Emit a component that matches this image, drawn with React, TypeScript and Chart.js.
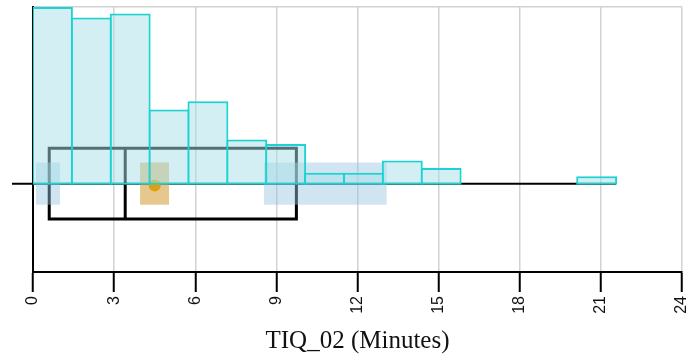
import React, { useEffect, useRef } from "react";
import { Chart, registerables } from "chart.js";

Chart.register(...registerables);

// Histogram bins of TIQ_02 (minutes) and relative bar heights (% of tallest bin)
const binEdges = [0, 1.4375, 2.875, 4.3125, 5.75, 7.1875, 8.625, 10.0625, 11.5, 12.9375, 14.375, 15.8125, 17.25, 18.6875, 20.125, 21.5625];
const binHeights: (number | null)[] = [100, 94, 96.3, 42, 46.7, 25, 22.4, 6.2, 6.2, 13.1, 8.8, null, null, null, 4.2];

// Box plot: min, Q1, median, Q3, max
const boxFive = [0, 0.6, 3.41, 9.74, 21.56];
// Shaded intervals
const q1Interval = [0.11, 1.0];
const q3Interval = [8.54, 13.08];
const meanInterval = [3.96, 5.03];
const meanValue = [4.5];

// Axis ticks
const xTickValues = [0, 3, 6, 9, 12, 15, 18, 21, 24];
const axisTitle = "TIQ_02 (Minutes)";

const BOX_HALF = 20;
const BAND_HALF = 12;
const Y_MIN = -50;
const Y_MAX = 100;

function rect(x0: number, x1: number, h: number) {
  return [
    { x: x0, y: -h },
    { x: x1, y: -h },
    { x: x1, y: h },
    { x: x0, y: h },
    { x: x0, y: -h },
  ];
}

export default function App() {
  const ref = useRef<HTMLCanvasElement>(null);

  useEffect(() => {
    const centers = binHeights.map((_, i) => (binEdges[i] + binEdges[i + 1]) / 2);
    const histData = centers.map((c, i) => ({ x: c, y: binHeights[i] }));
    const [mn, q1, med, q3, mx] = boxFive;

    const chart = new Chart(ref.current as HTMLCanvasElement, {
      type: "bar",
      data: {
        datasets: [
          {
            type: "bar",
            label: "hist",
            data: histData as any,
            base: -0.6,
            backgroundColor: "rgba(168, 224, 232, 0.5)",
            borderColor: "#1cd2d2",
            borderWidth: 2,
            borderSkipped: false,
            inflateAmount: 0,
            barPercentage: 1.052,
            categoryPercentage: 1,
            order: 0,
          } as any,
          {
            type: "line",
            label: "mean",
            data: meanValue.map((m) => ({ x: m, y: -1 })),
            showLine: false,
            pointRadius: 6,
            pointBackgroundColor: "rgb(224, 158, 18)",
            pointBorderWidth: 0,
            order: 1,
          } as any,
          {
            type: "line",
            label: "meanCI",
            data: rect(meanInterval[0], meanInterval[1], BAND_HALF),
            fill: "shape",
            backgroundColor: "rgba(212, 158, 58, 0.58)",
            borderColor: "rgba(0,0,0,0)",
            borderWidth: 0,
            pointRadius: 0,
            order: 2,
          } as any,
          {
            type: "line",
            label: "q1CI",
            data: rect(q1Interval[0], q1Interval[1], BAND_HALF),
            fill: "shape",
            backgroundColor: "rgba(150, 195, 225, 0.45)",
            borderColor: "rgba(0,0,0,0)",
            borderWidth: 0,
            pointRadius: 0,
            order: 3,
          } as any,
          {
            type: "line",
            label: "q3CI",
            data: rect(q3Interval[0], q3Interval[1], BAND_HALF),
            fill: "shape",
            backgroundColor: "rgba(150, 195, 225, 0.45)",
            borderColor: "rgba(0,0,0,0)",
            borderWidth: 0,
            pointRadius: 0,
            order: 3,
          } as any,
          {
            type: "line",
            label: "box",
            data: rect(q1, q3, BOX_HALF),
            borderColor: "#000",
            borderWidth: 3,
            borderJoinStyle: "miter",
            borderCapStyle: "square",
            pointRadius: 0,
            fill: false,
            order: 4,
          } as any,
          {
            type: "line",
            label: "median",
            data: [
              { x: med, y: -BOX_HALF },
              { x: med, y: BOX_HALF },
            ],
            borderColor: "#000",
            borderWidth: 3,
            pointRadius: 0,
            fill: false,
            order: 4,
          } as any,
          {
            type: "line",
            label: "whisker",
            data: [
              { x: mn, y: 0 },
              { x: mx, y: 0 },
            ],
            borderColor: "#000",
            borderWidth: 2,
            pointRadius: 0,
            fill: false,
            order: 5,
          } as any,
        ],
      },
      options: {
        responsive: false,
        animation: false,
        devicePixelRatio: 1,
        layout: { padding: { top: 7, right: 7, left: 12, bottom: 0 } },
        plugins: {
          legend: { display: false },
          tooltip: { enabled: false },
        },
        scales: {
          x: {
            type: "linear",
            min: xTickValues[0],
            max: xTickValues[xTickValues.length - 1],
            offset: false,
            afterBuildTicks: (s: any) => {
              s.ticks = xTickValues.map((v) => ({ value: v }));
            },
            afterFit: (s: any) => {
              s.height = 88;
              s.paddingLeft = 0;
              s.paddingRight = 0;
            },
            grid: {
              offset: false,
              color: "#d2d2d2",
              lineWidth: 1.5,
              tickColor: "#000",
              tickWidth: 2,
              tickLength: 20,
            },
            border: { display: true, color: "#000", width: 2 },
            ticks: {
              minRotation: 90,
              maxRotation: 90,
              padding: 4,
              color: "#111",
              font: { family: "'Liberation Sans', Arial, sans-serif", size: 16 },
              callback: (v: any) => String(v),
            },
            title: {
              display: true,
              text: axisTitle,
              color: "#111",
              font: { family: "'Liberation Serif', 'Times New Roman', serif", size: 25 },
              padding: { top: 0, bottom: 4 },
            },
          } as any,
          y: {
            type: "linear",
            min: Y_MIN,
            max: Y_MAX,
            afterBuildTicks: (s: any) => {
              s.ticks = [{ value: Y_MIN }, { value: 0 }, { value: Y_MAX }];
            },
            afterFit: (s: any) => {
              s.width = 21;
            },
            grid: {
              color: (ctx: any) => (ctx.tick && ctx.tick.value === Y_MAX ? "#d2d2d2" : "rgba(0,0,0,0)"),
              lineWidth: 1.5,
              tickColor: (ctx: any) => (ctx.tick && ctx.tick.value === 0 ? "#000" : "rgba(0,0,0,0)"),
              tickWidth: 2,
              tickLength: 21,
            },
            border: { display: true, color: "#000", width: 2 },
            ticks: { display: false },
          } as any,
        },
      } as any,
    });
    return () => chart.destroy();
  }, []);

  return (
    <div style={{ position: "absolute", left: 0, top: 0, width: 689, height: 360, background: "#fff" }}>
      <canvas ref={ref} width={689} height={360} style={{ display: "block", width: 689, height: 360 }} />
    </div>
  );
}
